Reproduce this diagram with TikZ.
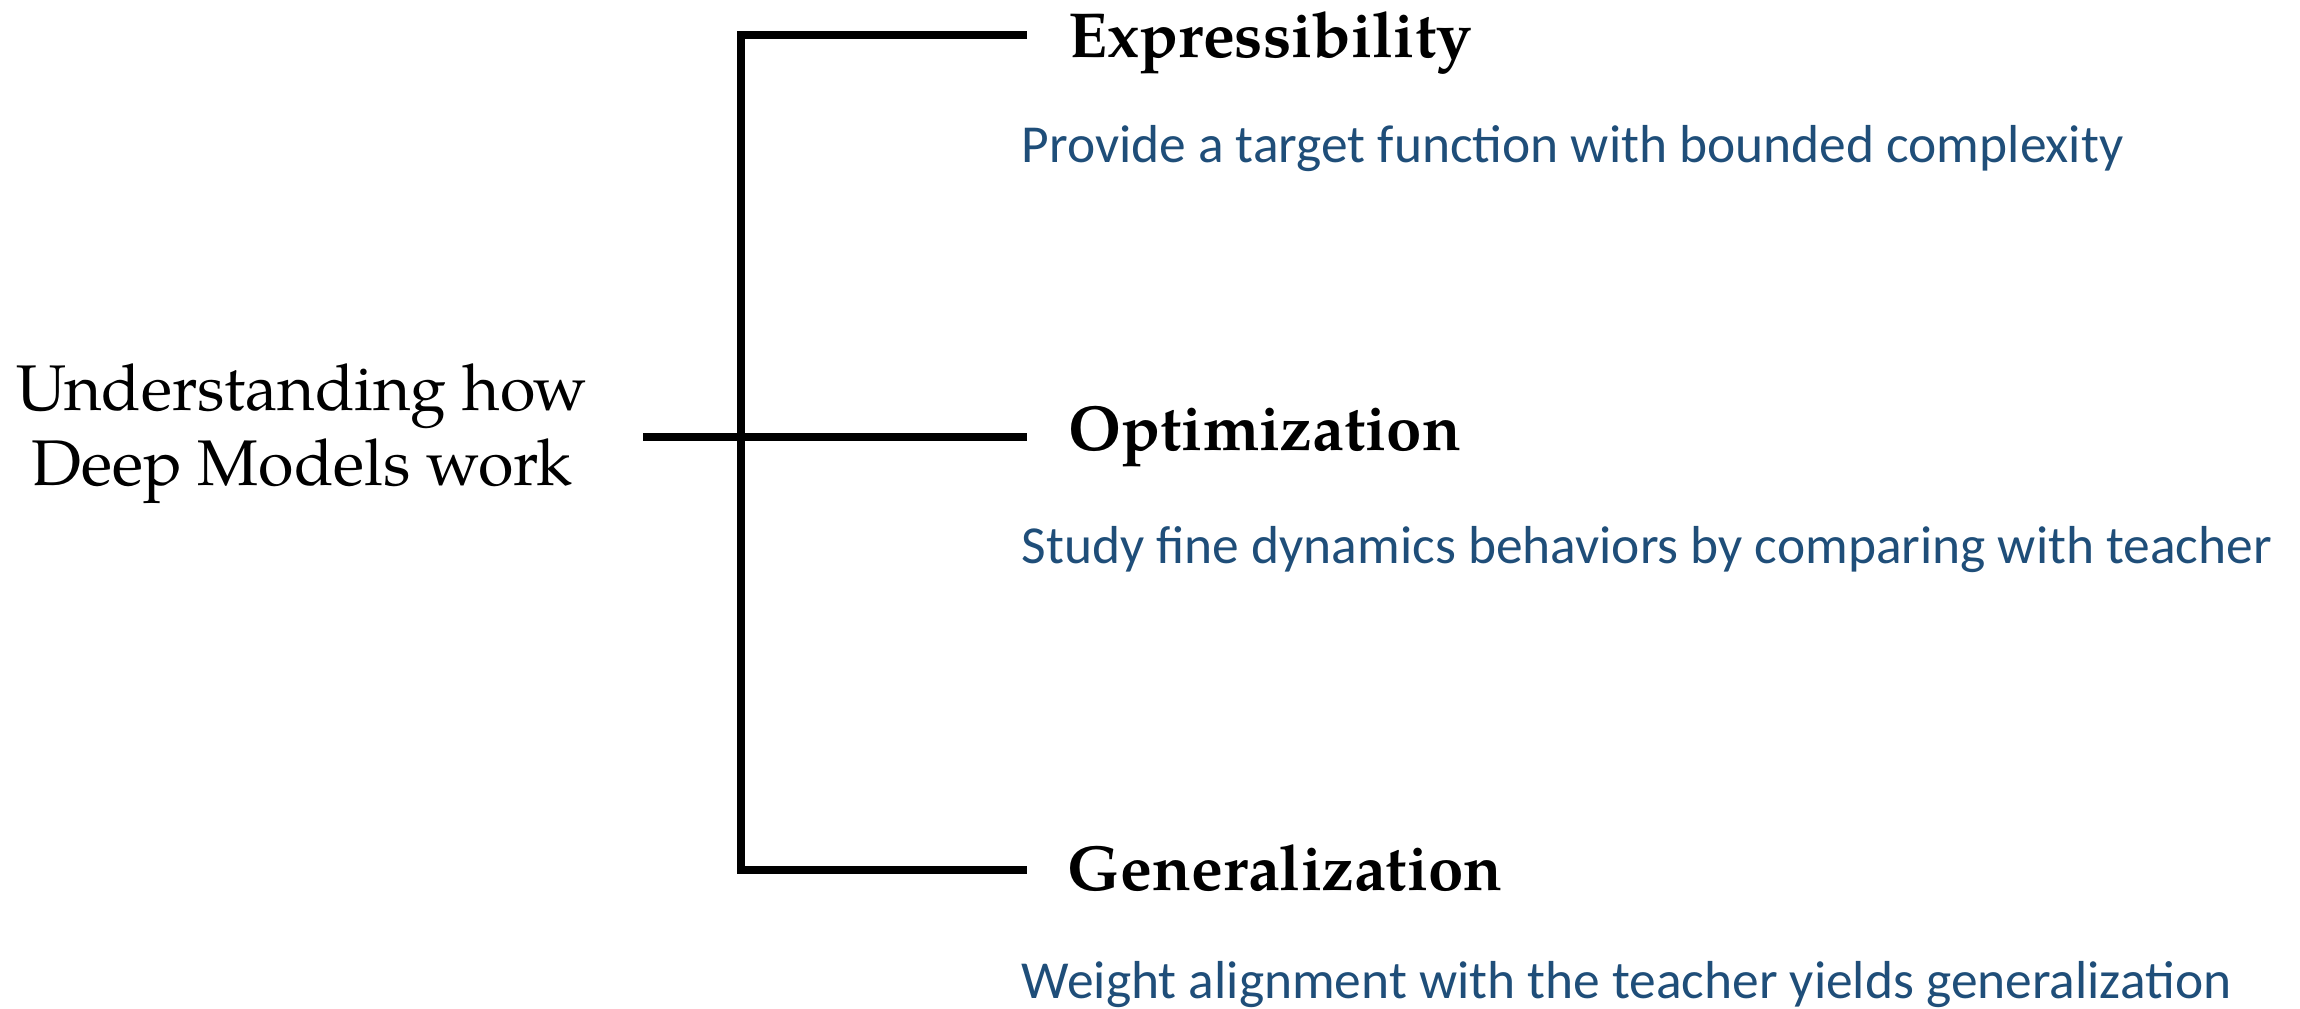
\documentclass[tikz,border=0pt]{standalone}
\usepackage{fontspec}
\setmainfont{texgyrepagella}[Extension=.otf, UprightFont=*-regular, BoldFont=*-bold]
\newfontfamily\descfont{Carlito}
\definecolor{descblue}{HTML}{1F4E79}
\begin{document}
\begin{tikzpicture}[x=0.01cm, y=-0.01cm,
  bar/.style={line width=0.08cm, line cap=butt, line join=miter},
  rootnode/.style={font=\fontsize{18.35}{21.34}\selectfont, align=center, inner sep=0pt},
  head/.style={font=\bfseries\fontsize{18.1}{22}\selectfont, inner sep=0pt, anchor=base west},
  desc/.style={font=\descfont\fontsize{15.2}{18}\selectfont, text=descblue, inner sep=0pt, anchor=base west}]
  \useasboundingbox (0,0) rectangle (2300,1008);

  % root topic
  \node[rootnode] (root) at (302,434) {Understanding how\\Deep Models work};

  % branches
  \node[head] (exp) at (1068,57)  {Expressibility};
  \node[head] (opt) at (1068,450) {Optimization};
  \node[head] (gen) at (1067,890) {Generalization};

  \node[desc] (dexp) at (1021,162) {Provide a target function with bounded complexity};
  \node[desc] (dopt) at (1021,563) {Study fine dynamics behaviors by comparing with teacher};
  \node[desc] (dgen) at (1021,998) {Weight alignment with the teacher yields generalization};

  % bracket joints
  \coordinate (rootend) at (643,437);
  \coordinate (jt) at (741,35);
  \coordinate (jm) at (741,437);
  \coordinate (jb) at (741,870);
  \coordinate (et) at (1027,35);
  \coordinate (em) at (1027,437);
  \coordinate (eb) at (1027,870);

  \draw[bar] (et) -- (jt) -- (jb) -- (eb);
  \draw[bar] (rootend) -- (jm) -- (em);
\end{tikzpicture}
\end{document}
